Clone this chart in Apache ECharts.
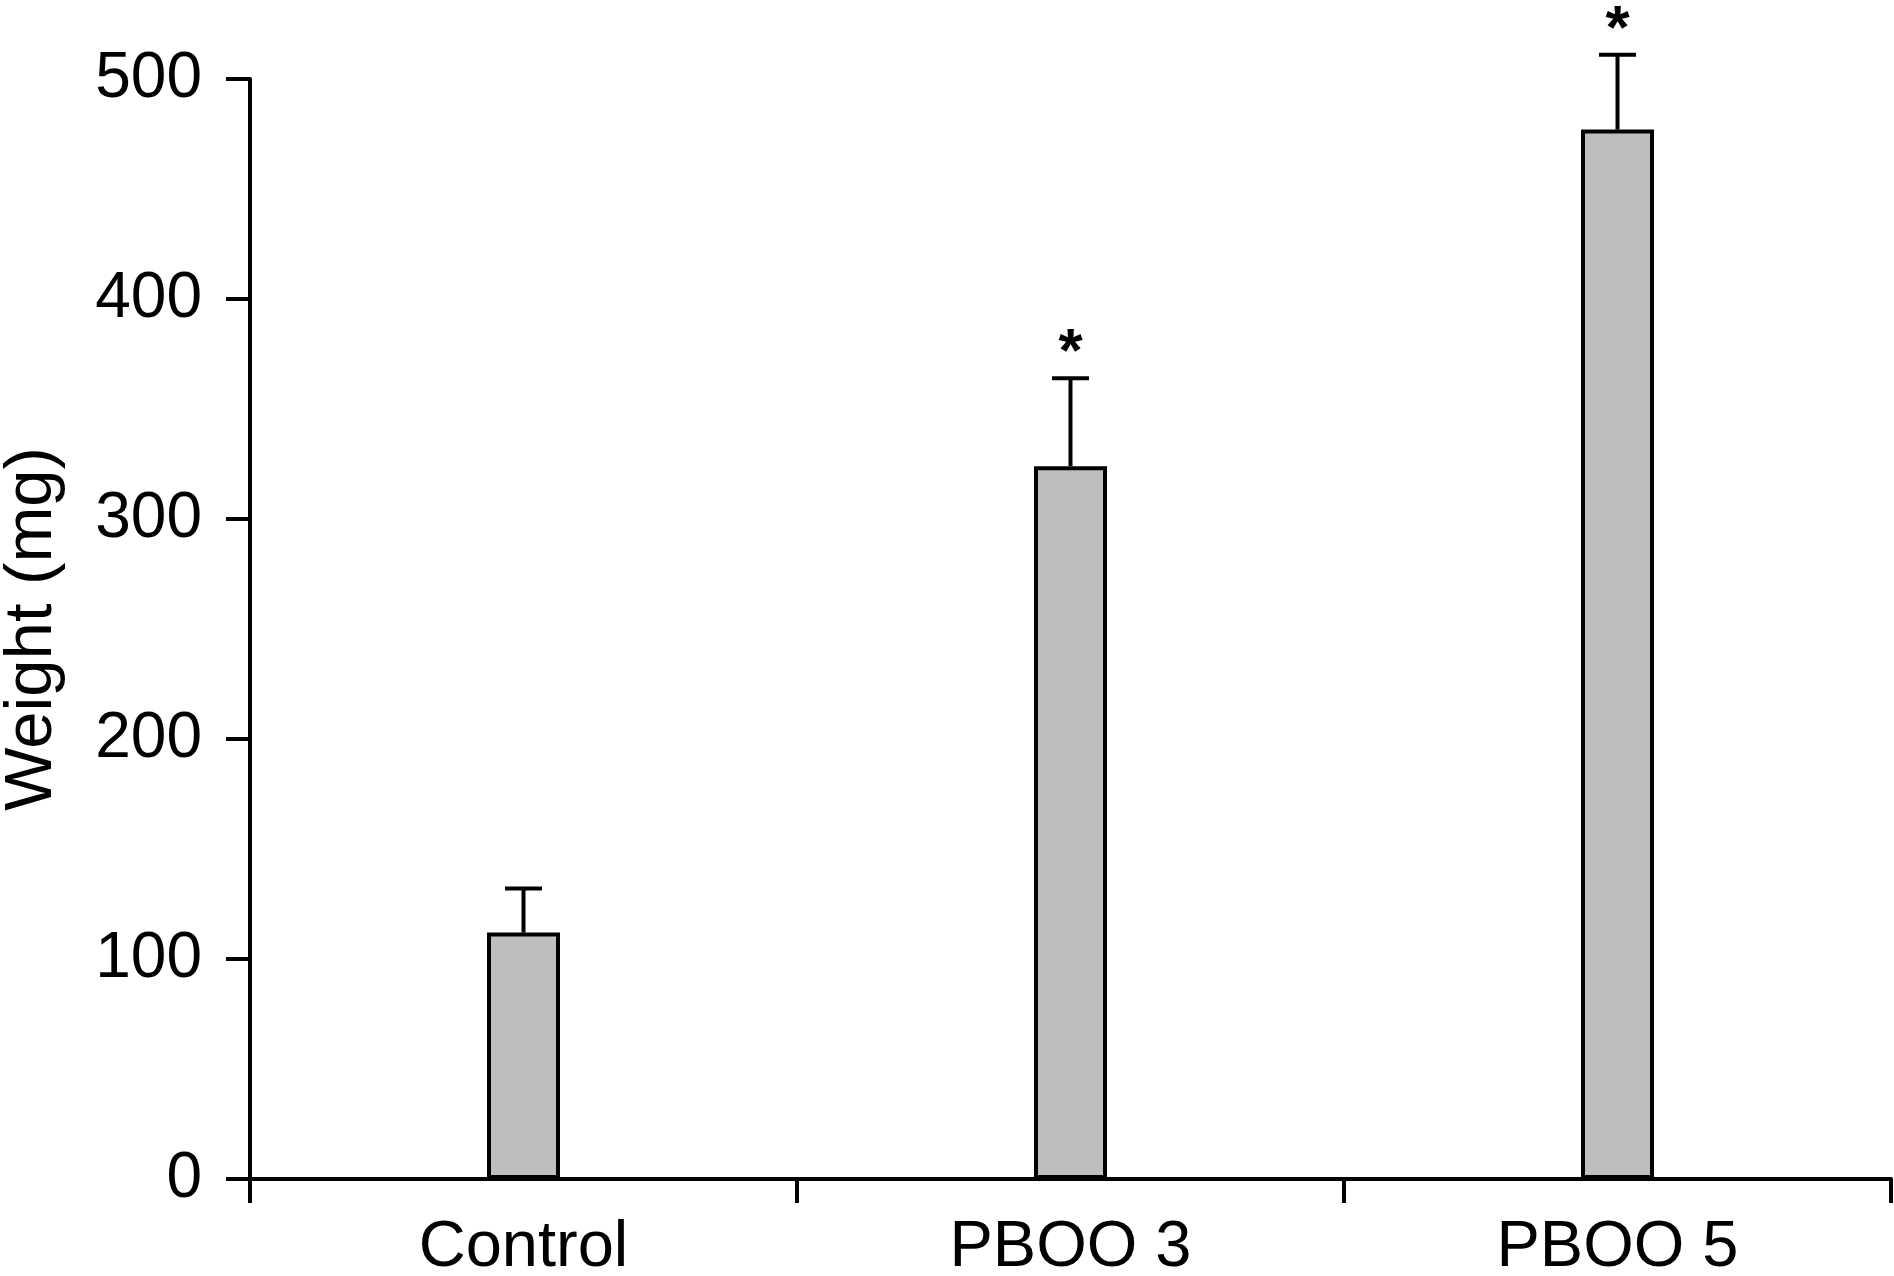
<!DOCTYPE html>
<html>
<head>
<meta charset="utf-8">
<script src="https://cdn.jsdelivr.net/npm/echarts@6/dist/echarts.min.js"></script>
<style>
html,body{margin:0;padding:0;background:#fff;}
#chart{width:1894px;height:1276px;}
</style>
</head>
<body>
<div id="chart"></div>
<script>
var categories = ['Control', 'PBOO 3', 'PBOO 5'];
var means = [112, 324, 477];
var errors = [20, 40, 34];
var significant = ['', '*', '*'];
var yTicks = [0, 100, 200, 300, 400, 500];

var FONT = '"Liberation Sans", Arial, Helvetica, sans-serif';
var chart = echarts.init(document.getElementById('chart'));

var errData = categories.map(function (c, i) {
  return [i, means[i], means[i] + errors[i], significant[i]];
});

chart.setOption({
  backgroundColor: '#ffffff',
  animation: false,
  grid: { left: 250, right: 3, top: 79, bottom: 97, containLabel: false, outerBoundsMode: 'none' },
  xAxis: {
    type: 'category',
    data: categories,
    boundaryGap: true,
    axisLine: { show: true, lineStyle: { color: '#000', width: 4 } },
    axisTick: { show: true, length: 24, inside: false, lineStyle: { color: '#000', width: 4 } },
    axisLabel: { color: '#000', fontFamily: FONT, fontSize: 65, margin: 37 },
    splitLine: { show: false }
  },
  yAxis: {
    type: 'value',
    min: yTicks[0],
    max: yTicks[yTicks.length - 1],
    interval: 100,
    name: 'Weight (mg)',
    nameLocation: 'middle',
    nameRotate: 90,
    nameGap: 184,
    nameTextStyle: { color: '#000', fontFamily: FONT, fontSize: 67 },
    axisLine: { show: true, lineStyle: { color: '#000', width: 4 } },
    axisTick: { show: true, length: 24, inside: false, lineStyle: { color: '#000', width: 4 } },
    axisLabel: { color: '#000', fontFamily: FONT, fontSize: 64, margin: 48 },
    splitLine: { show: false }
  },
  series: [
    {
      type: 'bar',
      data: means,
      barWidth: 73,
      itemStyle: { color: '#bebebe', borderColor: '#000', borderWidth: 4 },
      z: 2
    },
    {
      type: 'custom',
      data: errData,
      clip: false,
      z: 3,
      renderItem: function (params, api) {
        var x = api.value(0);
        var low = api.coord([x, api.value(1)]);
        var high = api.coord([x, api.value(2)]);
        var half = 18.5;
        var children = [
          { type: 'line', shape: { x1: low[0], y1: low[1], x2: high[0], y2: high[1] },
            style: { stroke: '#000', lineWidth: 4 } },
          { type: 'line', shape: { x1: high[0] - half, y1: high[1], x2: high[0] + half, y2: high[1] },
            style: { stroke: '#000', lineWidth: 4 } }
        ];
        var star = significant[params.dataIndex];
        if (star) {
          children.push({
            type: 'text',
            style: { text: star, x: high[0], y: high[1] - 24, align: 'center', verticalAlign: 'middle',
                     fill: '#000', font: 'bold 62px ' + FONT }
          });
        }
        return { type: 'group', children: children };
      }
    }
  ]
});
</script>
</body>
</html>
